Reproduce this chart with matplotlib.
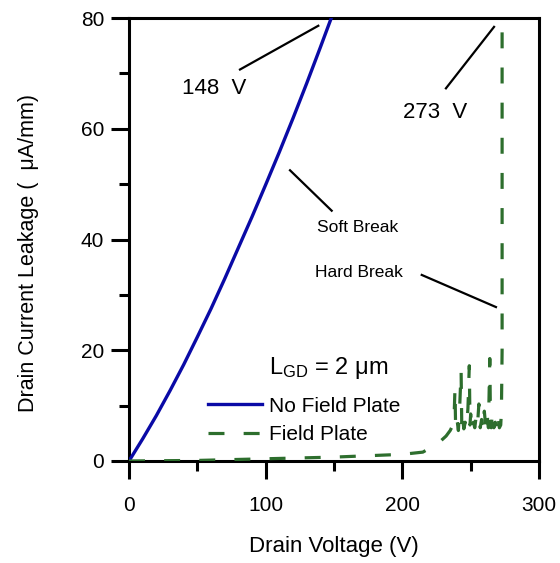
import matplotlib
matplotlib.use("Agg")
import matplotlib.pyplot as plt
from matplotlib.ticker import MultipleLocator

plt.rcParams["font.family"] = ["Liberation Sans", "DejaVu Sans"]
plt.rcParams["mathtext.fontset"] = "custom"
plt.rcParams["mathtext.rm"] = "Liberation Sans"
plt.rcParams["mathtext.it"] = "Liberation Sans:italic"

# No field plate: leakage vs drain voltage up to breakdown at 148 V
nofp_v = [0, 10, 20, 30, 40, 50, 60, 70, 80, 90, 100, 110, 120, 130, 140, 148, 150]
nofp_i = [0, 4.0, 8.2, 12.7, 17.4, 22.4, 27.5, 32.9, 38.5, 44.1, 49.9, 55.8, 61.9,
          68.2, 74.7, 80.0, 81.3]

# Field plate: low leakage, noisy soft break, hard break at 273 V
fp_v = [0, 50, 100, 150, 200, 215, 225, 228, 232, 235, 237, 238, 238.5, 239, 240, 241, 242,
        243, 243.5, 244, 245, 246, 247, 248, 249, 249.5, 250, 251, 252, 253, 254, 255, 256,
        257, 258, 259, 260, 261, 262, 263, 264, 264.5, 265, 266, 267, 268, 269, 270, 271,
        272, 272.5, 273, 273]
fp_i = [0, 0.1, 0.4, 0.7, 1.2, 1.6, 3.0, 3.6, 4.5, 5.5, 6.5, 9, 13, 6, 7.5, 5.5, 10,
        16.3, 6, 8, 5.8, 7, 6, 9.5, 17.2, 6.5, 8.5, 5.5, 7, 6, 8, 6.5, 10.3,
        6, 7.5, 5.8, 9, 6.2, 8.5, 6, 18.5, 7, 6, 9, 6, 7, 5.8, 8, 6,
        6.5, 9, 20, 85]

x_ticks = [0, 100, 200, 300]
y_ticks = [0, 20, 40, 60, 80]

blue = "#0a0aa6"
green = "#2d6e2d"

fig = plt.figure(figsize=(5.6, 5.63), dpi=100)
ax = fig.add_axes([0.2304, 0.1812, 0.7321, 0.7868])

ax.plot(nofp_v, nofp_i, color=blue, lw=2.4, label="No Field Plate", zorder=3)
ax.plot(fp_v, fp_i, color=green, lw=2.3, dashes=(5, 6), label="Field Plate", zorder=3)

ax.set_xlim(0, 300)
ax.set_ylim(0, 80)
ax.set_xticks(x_ticks)
ax.set_yticks(y_ticks)
ax.xaxis.set_minor_locator(MultipleLocator(50))
ax.yaxis.set_minor_locator(MultipleLocator(10))
ax.tick_params(which="major", direction="out", length=13, width=2.2, labelsize=15)
ax.tick_params(axis="x", which="major", pad=12.5)
ax.tick_params(axis="y", which="major", pad=5)
ax.tick_params(which="minor", direction="out", length=7, width=2.2)
for s in ax.spines.values():
    s.set_linewidth(2.2)
    s.set_clip_on(False)

ax.set_xlabel("Drain Voltage (V)", fontsize=16, labelpad=15)
ax.set_ylabel("Drain Current Leakage (  μA/mm)", fontsize=15.5)
ax.yaxis.set_label_coords(-0.22, 0.47)

# Breakdown annotations
ax.text(62, 67.3, "148  V", fontsize=16, ha="center", va="center")
ax.plot([81.2, 138.5], [70.7, 78.6], color="black", lw=1.6)
ax.text(224, 62.9, "273  V", fontsize=16, ha="center", va="center")
ax.plot([231.9, 267.1], [67.3, 78.4], color="black", lw=1.6)
ax.text(167, 42.1, "Soft Break", fontsize=12.5, ha="center", va="center")
ax.plot([117.8, 148.3], [52.5, 45.2], color="black", lw=1.6)
ax.text(168, 34.0, "Hard Break", fontsize=12.5, ha="center", va="center")
ax.plot([214.2, 268.5], [33.6, 27.8], color="black", lw=1.6)

ax.text(146, 16.8, r"$\mathregular{L_{GD}}$ = 2 μm", fontsize=17, ha="center", va="center")

ax.legend(loc="upper left", bbox_to_anchor=(0.192, 0.145), frameon=False, fontsize=15,
          handlelength=2.6, handletextpad=0.35, labelspacing=0.45, borderpad=0,
          borderaxespad=0)

fig.savefig("out.png", dpi=100)
